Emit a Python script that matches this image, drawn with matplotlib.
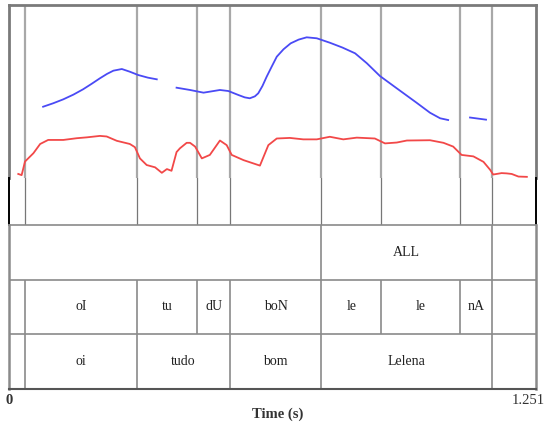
"""Praat-style picture: pitch + intensity over a three-tier TextGrid."""
import matplotlib
matplotlib.use("Agg")
import matplotlib.pyplot as plt

plt.rcParams["font.family"] = ["Liberation Serif", "DejaVu Serif"]

DURATION = 1.251

# pitch (Hz), three voiced stretches
pitch_t1 = [0.081, 0.105, 0.129, 0.153, 0.176, 0.196, 0.216, 0.233, 0.248, 0.268,
            0.287, 0.307, 0.330, 0.351]
pitch_f1 = [153.0, 158.0, 163.7, 170.5, 178.2, 186.0, 194.1, 200.5, 205.1, 207.5,
            203.6, 198.8, 195.0, 192.6]
pitch_t2 = [0.398, 0.430, 0.462, 0.501, 0.521, 0.545, 0.560, 0.572, 0.584, 0.592, 0.602,
            0.612, 0.624, 0.636, 0.652, 0.669, 0.688, 0.707, 0.731, 0.762, 0.792,
            0.822, 0.850, 0.881, 0.921, 0.968, 1.000, 1.024, 1.043]
pitch_f2 = [180.5, 177.2, 173.3, 177.2, 175.7, 169.9, 166.5, 165.2, 168.0, 172.4, 183.0,
            196.4, 211.0, 225.3, 236.0, 244.6, 250.0, 253.3, 251.9, 245.5, 238.5,
            230.2, 215.8, 197.4, 179.6, 158.8, 144.3, 136.3, 133.8]
pitch_t3 = [1.095, 1.133]
pitch_f3 = [137.4, 134.3]

# intensity (dB)
int_t = [0.022, 0.030, 0.038, 0.058, 0.074, 0.093, 0.129, 0.161, 0.185, 0.216, 0.232,
         0.256, 0.287, 0.299, 0.311, 0.327, 0.347, 0.363, 0.375, 0.386, 0.398, 0.406,
         0.422, 0.430, 0.442, 0.458, 0.477, 0.501, 0.517, 0.529, 0.557, 0.596, 0.616,
         0.636, 0.667, 0.699, 0.731, 0.762, 0.794, 0.826, 0.869, 0.893, 0.921, 0.945,
         1.000, 1.032, 1.055, 1.075, 1.103, 1.127, 1.143, 1.150, 1.170, 1.182, 1.194,
         1.210, 1.230]
int_db = [41.4, 41.0, 45.7, 48.6, 51.8, 53.2, 53.2, 53.8, 54.1, 54.6, 54.4,
          52.9, 51.8, 50.7, 46.8, 44.5, 43.7, 41.8, 43.1, 42.5, 49.0, 50.3,
          52.2, 52.2, 50.9, 46.8, 48.0, 53.0, 51.4, 48.0, 46.2, 44.3, 51.4,
          53.7, 53.9, 53.4, 53.4, 54.3, 53.4, 54.0, 53.7, 52.0, 52.3, 53.0,
          53.1, 52.2, 50.9, 48.0, 47.5, 45.6, 42.8, 41.2, 41.7, 41.6, 41.4,
          40.5, 40.4]

# TextGrid tiers (top to bottom)
tier1_bounds = [0.742, 1.147]
tier1_labels = ["", "ALL", ""]
tier2_bounds = [0.038, 0.304, 0.447, 0.525, 0.742, 0.884, 1.071, 1.147]
tier2_labels = ["", "oI", "tu", "dU", "boN", "le", "le", "nA", ""]
tier3_bounds = [0.038, 0.304, 0.525, 0.742, 1.147]
tier3_labels = ["", "oi", "tudo", "bom", "Lelena", ""]

W, H = 551, 428
X0, X1 = 9, 535.7


def box(y0, y1):
    return [X0 / W, 1 - y1 / H, (X1 - X0) / W, (y1 - y0) / H]


fig = plt.figure(figsize=(W / 100, H / 100), dpi=100)

# --- pitch / intensity panel ---
ax_p = fig.add_axes(box(5, 178))
ax_p.set_xlim(0, DURATION)
ax_p.set_ylim(50, 300)
ax_p.set_xticks([])
ax_p.set_yticks([])
for b in tier2_bounds:
    ax_p.axvline(b, color="#a8a8a8", lw=1.6, zorder=1)
for s in ["left", "right", "top"]:
    ax_p.spines[s].set_color("#7a7a7a")
    ax_p.spines[s].set_linewidth(2)
ax_p.spines["bottom"].set_visible(False)
for t, f in [(pitch_t1, pitch_f1), (pitch_t2, pitch_f2), (pitch_t3, pitch_f3)]:
    ax_p.plot(t, f, color="#4a4af5", lw=1.3, zorder=3, solid_joinstyle="round")

ax_i = ax_p.twinx()
ax_i.set_ylim(40, 100)
ax_i.axis("off")
ax_i.plot(int_t, int_db, color="#f24848", lw=1.3, clip_on=False, solid_joinstyle="round")

# --- gap between panel and tiers ---
ax_g = fig.add_axes(box(178, 225))
ax_g.set_xlim(0, DURATION)
ax_g.set_ylim(0, 1)
ax_g.set_xticks([])
ax_g.set_yticks([])
for b in tier2_bounds:
    ax_g.axvline(b, color="#777777", lw=0.9)
ax_g.spines["top"].set_visible(False)
ax_g.spines["bottom"].set_visible(False)
for s in ["left", "right"]:
    ax_g.spines[s].set_color("black")
    ax_g.spines[s].set_linewidth(1.4)
ax_g.patch.set_alpha(0)

# --- tiers ---
ax_t = fig.add_axes(box(225, 389))
ax_t.set_xlim(0, DURATION)
ax_t.set_ylim(0, 3)
ax_t.set_xticks([])
ax_t.set_yticks([])
for s in ["left", "right"]:
    ax_t.spines[s].set_color("#8a8a8a")
    ax_t.spines[s].set_linewidth(1.8)
ax_t.spines["top"].set_color("#8a8a8a")
ax_t.spines["top"].set_linewidth(1.2)
ax_t.spines["bottom"].set_color("#555555")
ax_t.spines["bottom"].set_linewidth(1.5)
for y in [1, 2]:
    ax_t.axhline(y, color="#8a8a8a", lw=1.2)

tiers = [(tier1_bounds, tier1_labels), (tier2_bounds, tier2_labels), (tier3_bounds, tier3_labels)]
for row, (bounds, labels) in enumerate(tiers):
    y_lo = 2 - row
    ax_t.vlines(bounds, y_lo, y_lo + 1, color="#8a8a8a", lw=1.2)
    edges = [0] + bounds + [DURATION]
    for i, lab in enumerate(labels):
        if lab:
            ax_t.text((edges[i] + edges[i + 1]) / 2, y_lo + 0.5, lab,
                      ha="center", va="center", fontsize=10, color="#222222")

# time axis labels
ax_t.annotate("0", xy=(0, 0), xytext=(0, -8.5), textcoords="offset points",
              ha="center", va="center", fontsize=10.5, fontweight="bold", color="#333333")
ax_t.annotate(f"{DURATION:.3f}", xy=(DURATION, 0), xytext=(-5, -8.5), textcoords="offset points",
              ha="center", va="center", fontsize=10.5, color="#333333")
ax_t.annotate("Time (s)", xy=(0.5, 0), xycoords="axes fraction", xytext=(4, -18),
              textcoords="offset points", ha="center", va="center",
              fontsize=10.5, fontweight="bold", color="#333333")

fig.savefig("out.png", dpi=100)
